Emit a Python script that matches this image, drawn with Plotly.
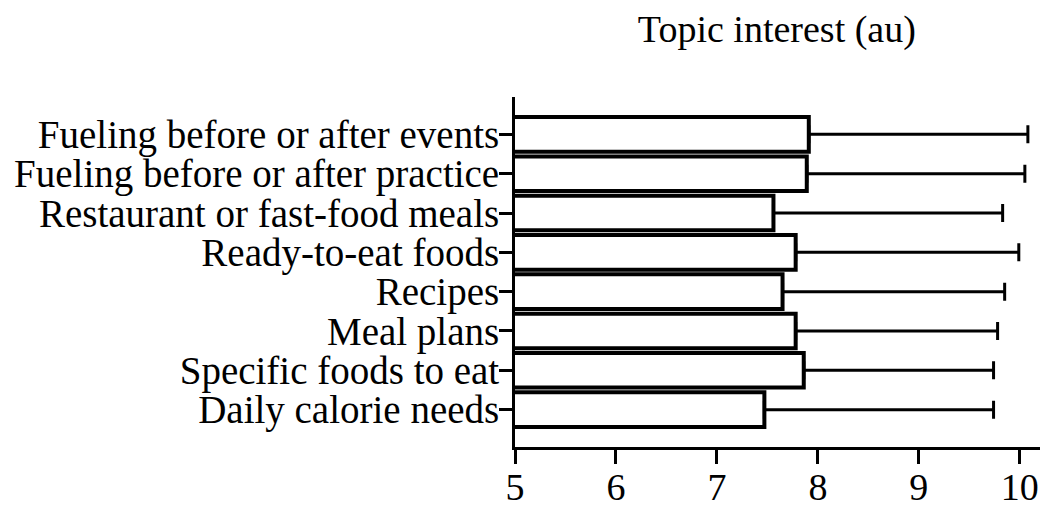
import plotly.graph_objects as go

categories = [
    "Fueling before or after events",
    "Fueling before or after practice",
    "Restaurant or fast-food meals",
    "Ready-to-eat foods",
    "Recipes",
    "Meal plans",
    "Specific foods to eat",
    "Daily calorie needs",
]
means = [7.91, 7.89, 7.56, 7.78, 7.65, 7.78, 7.86, 7.47]
sds = [2.17, 2.16, 2.27, 2.21, 2.20, 2.00, 1.88, 2.27]
x_ticks = [5, 6, 7, 8, 9, 10]
axis_title = "Topic interest (au)"

FONT = "Liberation Serif, Times New Roman, serif"

fig = go.Figure()
fig.add_trace(go.Bar(
    y=categories,
    x=means,
    orientation="h",
    marker=dict(color="white", line=dict(color="black", width=4)),
    error_x=dict(type="data", array=sds, arrayminus=[0] * len(sds),
                 symmetric=False, color="black", thickness=3, width=9),
    showlegend=False,
))

fig.update_layout(
    width=1040, height=509,
    margin=dict(l=515, r=0, t=97, b=62),
    paper_bgcolor="white", plot_bgcolor="white",
    bargap=0.12,
    font=dict(family=FONT, color="black", size=39),
    title=dict(text=axis_title, x=0.747, xanchor="center", y=0.943, yanchor="middle",
               font=dict(family=FONT, size=38, color="black")),
    xaxis=dict(range=[5, 10.2], tickmode="array", tickvals=x_ticks, ticks="outside",
               ticklen=14, tickwidth=3, tickcolor="black", showline=True, linewidth=3,
               linecolor="black", showgrid=False, zeroline=False, automargin=False,
               ticklabelstandoff=-10,
               tickfont=dict(family=FONT, size=38, color="black")),
    yaxis=dict(categoryorder="array", categoryarray=categories,
               tickmode="array", tickvals=categories,
               range=[7.95, -0.95], ticks="outside", ticklen=13, tickwidth=3,
               tickcolor="black", showline=True, linewidth=3, linecolor="black",
               showgrid=False, zeroline=False, automargin=False,
               ticklabelstandoff=-8,
               tickfont=dict(family=FONT, size=39, color="black")),
)

fig.write_html("out.html", config={"displayModeBar": False},
               post_script="document.body.style.margin='0';")
